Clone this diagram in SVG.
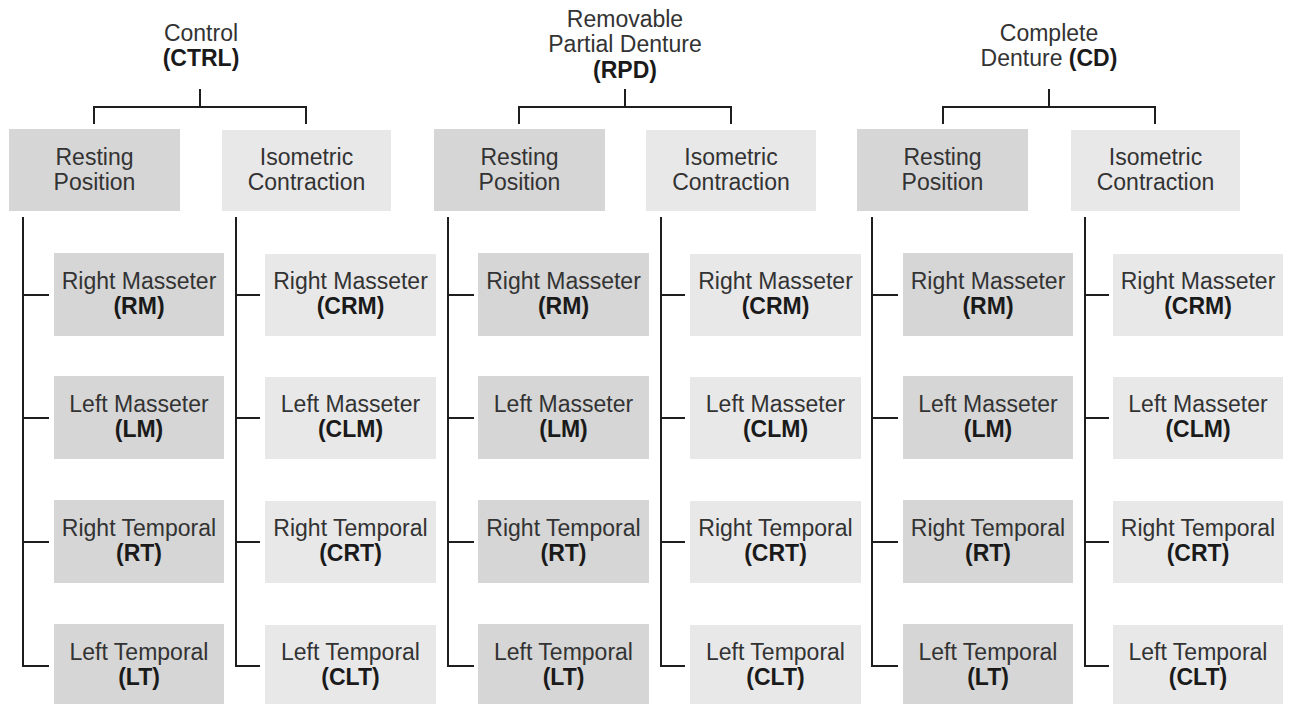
<svg xmlns="http://www.w3.org/2000/svg" width="1289" height="704" viewBox="0 0 1289 704">
<style>
  text { font-family: "Liberation Sans", Arial, sans-serif; font-size: 23px; text-anchor: middle; fill: #333; }
  .b { font-weight: bold; fill: #1a1a1a; }
  .rest { fill: #d6d6d6; }
  .iso { fill: #e8e8e9; }
  .ln { stroke: #1e1e1e; stroke-width: 2; fill: none; }
</style>
<defs>
  <g id="tree">
    <path class="ln" d="M200,89 V107 M94,124 V107 H306 V124"/>
    <path class="ln" d="M23,217 V666 H49 M23,295 H49 M23,418 H49 M23,542 H49"/>
    <path class="ln" d="M236,217 V666 H260 M236,295 H260 M236,418 H260 M236,542 H260"/>
  </g>
</defs>
<g id="connectors">
  <use href="#tree"/>
  <use href="#tree" transform="translate(425,0)"/>
  <use href="#tree" transform="translate(849,0)"/>
</g>

<!-- Titles -->
<g id="title-ctrl"><text x="201" y="41">Control</text><text class="b" x="201" y="66">(CTRL)</text></g>
<g id="title-rpd"><text x="625" y="27">Removable</text><text x="625" y="52">Partial Denture</text><text class="b" x="625" y="78">(RPD)</text></g>
<g id="title-cd"><text x="1049" y="41">Complete</text><text x="1049" y="66">Denture <tspan class="b">(CD)</tspan></text></g>

<!-- Group 1 -->
<g id="ctrl-rest"><rect class="rest" x="9" y="129" width="171" height="82"/><text x="94.5" y="165">Resting</text><text x="94.5" y="190">Position</text></g>
<g id="ctrl-iso"><rect class="iso" x="222" y="130" width="169" height="81"/><text x="306.5" y="165">Isometric</text><text x="306.5" y="190">Contraction</text></g>
<g id="ctrl-rm"><rect class="rest" x="54" y="253" width="170" height="83"/><text x="139" y="289">Right Masseter</text><text class="b" x="139" y="314">(RM)</text></g>
<g id="ctrl-lm"><rect class="rest" x="54" y="376" width="170" height="83"/><text x="139" y="412">Left Masseter</text><text class="b" x="139" y="437">(LM)</text></g>
<g id="ctrl-rt"><rect class="rest" x="54" y="500" width="170" height="83"/><text x="139" y="536">Right Temporal</text><text class="b" x="139" y="561">(RT)</text></g>
<g id="ctrl-lt"><rect class="rest" x="54" y="624" width="170" height="83"/><text x="139" y="660">Left Temporal</text><text class="b" x="139" y="685">(LT)</text></g>
<g id="ctrl-crm"><rect class="iso" x="265" y="254" width="171" height="82"/><text x="350.5" y="289">Right Masseter</text><text class="b" x="350.5" y="314">(CRM)</text></g>
<g id="ctrl-clm"><rect class="iso" x="265" y="377" width="171" height="82"/><text x="350.5" y="412">Left Masseter</text><text class="b" x="350.5" y="437">(CLM)</text></g>
<g id="ctrl-crt"><rect class="iso" x="265" y="501" width="171" height="82"/><text x="350.5" y="536">Right Temporal</text><text class="b" x="350.5" y="561">(CRT)</text></g>
<g id="ctrl-clt"><rect class="iso" x="265" y="625" width="171" height="82"/><text x="350.5" y="660">Left Temporal</text><text class="b" x="350.5" y="685">(CLT)</text></g>

<!-- Group 2 -->
<g transform="translate(425,0)">
<g id="rpd-rest"><rect class="rest" x="9" y="129" width="171" height="82"/><text x="94.5" y="165">Resting</text><text x="94.5" y="190">Position</text></g>
<g id="rpd-iso"><rect class="iso" x="221" y="130" width="170" height="81"/><text x="306" y="165">Isometric</text><text x="306" y="190">Contraction</text></g>
<g id="rpd-rm"><rect class="rest" x="53" y="253" width="171" height="83"/><text x="138.5" y="289">Right Masseter</text><text class="b" x="138.5" y="314">(RM)</text></g>
<g id="rpd-lm"><rect class="rest" x="53" y="376" width="171" height="83"/><text x="138.5" y="412">Left Masseter</text><text class="b" x="138.5" y="437">(LM)</text></g>
<g id="rpd-rt"><rect class="rest" x="53" y="500" width="171" height="83"/><text x="138.5" y="536">Right Temporal</text><text class="b" x="138.5" y="561">(RT)</text></g>
<g id="rpd-lt"><rect class="rest" x="53" y="624" width="171" height="83"/><text x="138.5" y="660">Left Temporal</text><text class="b" x="138.5" y="685">(LT)</text></g>
<g id="rpd-crm"><rect class="iso" x="265" y="254" width="171" height="82"/><text x="350.5" y="289">Right Masseter</text><text class="b" x="350.5" y="314">(CRM)</text></g>
<g id="rpd-clm"><rect class="iso" x="265" y="377" width="171" height="82"/><text x="350.5" y="412">Left Masseter</text><text class="b" x="350.5" y="437">(CLM)</text></g>
<g id="rpd-crt"><rect class="iso" x="265" y="501" width="171" height="82"/><text x="350.5" y="536">Right Temporal</text><text class="b" x="350.5" y="561">(CRT)</text></g>
<g id="rpd-clt"><rect class="iso" x="265" y="625" width="171" height="82"/><text x="350.5" y="660">Left Temporal</text><text class="b" x="350.5" y="685">(CLT)</text></g>
</g>

<!-- Group 3 -->
<g transform="translate(849,0)">
<g id="cd-rest"><rect class="rest" x="8" y="129" width="171" height="82"/><text x="93.5" y="165">Resting</text><text x="93.5" y="190">Position</text></g>
<g id="cd-iso"><rect class="iso" x="222" y="130" width="169" height="81"/><text x="306.5" y="165">Isometric</text><text x="306.5" y="190">Contraction</text></g>
<g id="cd-rm"><rect class="rest" x="54" y="253" width="170" height="83"/><text x="139" y="289">Right Masseter</text><text class="b" x="139" y="314">(RM)</text></g>
<g id="cd-lm"><rect class="rest" x="54" y="376" width="170" height="83"/><text x="139" y="412">Left Masseter</text><text class="b" x="139" y="437">(LM)</text></g>
<g id="cd-rt"><rect class="rest" x="54" y="500" width="170" height="83"/><text x="139" y="536">Right Temporal</text><text class="b" x="139" y="561">(RT)</text></g>
<g id="cd-lt"><rect class="rest" x="54" y="624" width="170" height="83"/><text x="139" y="660">Left Temporal</text><text class="b" x="139" y="685">(LT)</text></g>
<g id="cd-crm"><rect class="iso" x="264" y="254" width="170" height="82"/><text x="349" y="289">Right Masseter</text><text class="b" x="349" y="314">(CRM)</text></g>
<g id="cd-clm"><rect class="iso" x="264" y="377" width="170" height="82"/><text x="349" y="412">Left Masseter</text><text class="b" x="349" y="437">(CLM)</text></g>
<g id="cd-crt"><rect class="iso" x="264" y="501" width="170" height="82"/><text x="349" y="536">Right Temporal</text><text class="b" x="349" y="561">(CRT)</text></g>
<g id="cd-clt"><rect class="iso" x="264" y="625" width="170" height="82"/><text x="349" y="660">Left Temporal</text><text class="b" x="349" y="685">(CLT)</text></g>
</g>
</svg>
